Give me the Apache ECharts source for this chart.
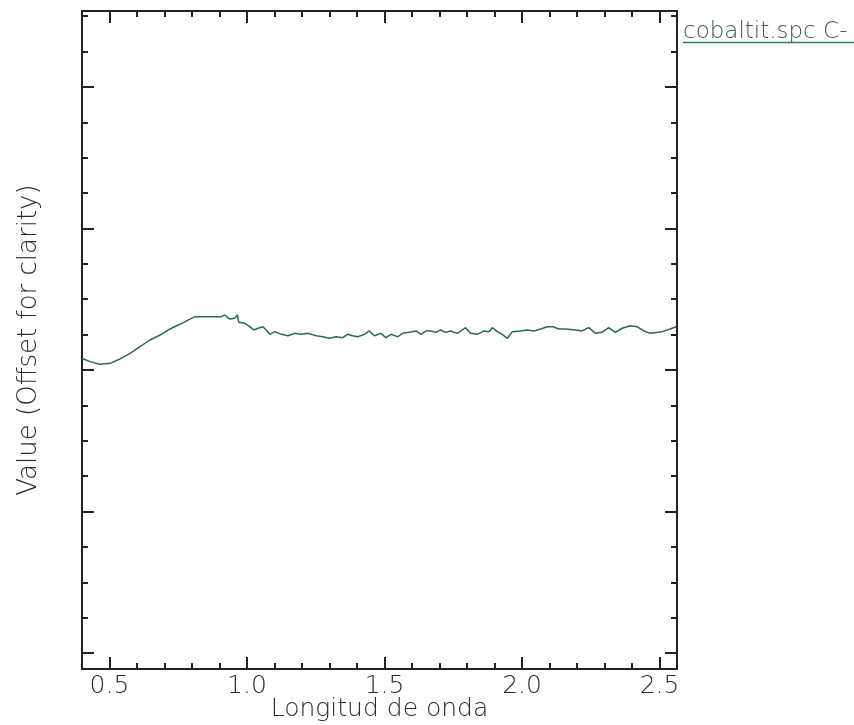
<!DOCTYPE html>
<html>
<head>
<meta charset="utf-8">
<script src="https://cdn.jsdelivr.net/npm/echarts@6/dist/echarts.min.js"></script>
<style>
  html, body { margin: 0; background: #fff; }
  #chart { width: 854px; height: 725px; }
</style>
</head>
<body>
<div id="chart"></div>
<script>
// spectrum (wavelength in um, value offset for clarity)
const wavelength = [
  0.400, 0.429, 0.465, 0.502, 0.538, 0.575, 0.611, 0.647, 0.684, 0.720,
  0.756, 0.793, 0.811, 0.822, 0.907, 0.919, 0.937, 0.955, 0.965, 0.970,
  0.992, 1.010, 1.025, 1.040, 1.058, 1.070, 1.083, 1.101, 1.125, 1.149,
  1.173, 1.197, 1.222, 1.252, 1.275, 1.299, 1.324, 1.348, 1.366, 1.384,
  1.403, 1.427, 1.445, 1.463, 1.487, 1.505, 1.524, 1.548, 1.566, 1.590,
  1.615, 1.633, 1.651, 1.669, 1.687, 1.704, 1.723, 1.741, 1.765, 1.795,
  1.813, 1.837, 1.862, 1.880, 1.892, 1.910, 1.928, 1.947, 1.965, 1.995,
  2.019, 2.044, 2.068, 2.092, 2.114, 2.133, 2.157, 2.194, 2.218, 2.243,
  2.267, 2.291, 2.315, 2.339, 2.364, 2.394, 2.418, 2.443, 2.467, 2.509,
  2.539, 2.560
];
const value = [
  0.2083, 0.2059, 0.2040, 0.2047, 0.2078, 0.2118, 0.2165, 0.2212, 0.2247, 0.2290,
  0.2323, 0.2360, 0.2377, 0.2377, 0.2377, 0.2389, 0.2360, 0.2365, 0.2389, 0.2337,
  0.2330, 0.2306, 0.2283, 0.2295, 0.2306, 0.2283, 0.2252, 0.2271, 0.2252, 0.2242,
  0.2259, 0.2252, 0.2259, 0.2242, 0.2235, 0.2224, 0.2235, 0.2228, 0.2252, 0.2242,
  0.2235, 0.2252, 0.2276, 0.2242, 0.2259, 0.2228, 0.2252, 0.2235, 0.2259, 0.2266,
  0.2276, 0.2252, 0.2276, 0.2276, 0.2266, 0.2283, 0.2266, 0.2276, 0.2259, 0.2299,
  0.2259, 0.2252, 0.2276, 0.2271, 0.2299, 0.2271, 0.2252, 0.2224, 0.2271, 0.2276,
  0.2283, 0.2276, 0.2290, 0.2306, 0.2306, 0.2290, 0.2290, 0.2283, 0.2276, 0.2299,
  0.2259, 0.2266, 0.2299, 0.2266, 0.2295, 0.2313, 0.2306, 0.2276, 0.2259, 0.2271,
  0.2290, 0.2306
];

const seriesName = "cobaltit.spc C-";
const xName = "Longitud de onda";
const yName = "Value (Offset for clarity)";

const xMajorTicks = [0.5, 1.0, 1.5, 2.0, 2.5];
const xMinorTicks = [0.6, 0.7, 0.8, 0.9, 1.1, 1.2, 1.3, 1.4, 1.6, 1.7, 1.8, 1.9, 2.1, 2.2, 2.3, 2.4];
const yMajorTicks = [0, 0.1, 0.2, 0.3, 0.4];
const yMinorTicks = [
  0.025, 0.05, 0.075, 0.125, 0.15, 0.175, 0.225, 0.25, 0.275,
  0.325, 0.35, 0.375, 0.425, 0.45
];

const X_MIN = 0.4;
const X_MAX = 2.5636;
const Y_MIN = -0.0113;
const Y_MAX = 0.4537;

const INK = "#222";
const FONT = "DejaVu Sans";

const chart = echarts.init(document.getElementById("chart"), null, { renderer: "canvas" });

function xAxisDef(position, ticks, len, withLabels) {
  return {
    type: "value",
    position,
    min: X_MIN,
    max: X_MAX,
    splitLine: { show: false },
    axisLine: { show: true, onZero: false, lineStyle: { color: INK, width: 2 } },
    axisTick: { show: true, inside: true, length: len, customValues: ticks, lineStyle: { color: INK, width: 2 } },
    axisLabel: withLabels
      ? {
          show: true,
          customValues: ticks,
          formatter: (v) => v.toFixed(1),
          color: "#2a2a2a",
          fontFamily: FONT,
          fontWeight: 200,
          fontSize: 25,
          margin: 5
        }
      : { show: false },
    name: withLabels ? xName : "",
    nameLocation: "middle",
    nameGap: 28,
    nameMoveOverlap: false,
    nameTextStyle: { color: "#2a2a2a", fontFamily: FONT, fontWeight: 200, fontSize: 25 }
  };
}

function yAxisDef(position, ticks, len, withName) {
  return {
    type: "value",
    position,
    min: Y_MIN,
    max: Y_MAX,
    splitLine: { show: false },
    axisLine: { show: true, onZero: false, lineStyle: { color: INK, width: 2 } },
    axisTick: { show: true, inside: true, length: len, customValues: ticks, lineStyle: { color: INK, width: 2 } },
    axisLabel: { show: false },
    name: withName ? yName : "",
    nameLocation: "middle",
    nameGap: 40,
    nameTextStyle: { color: "#2a2a2a", fontFamily: FONT, fontWeight: 200, fontSize: 26 }
  };
}

chart.setOption({
  animation: false,
  backgroundColor: "#fff",
  grid: { left: 82, top: 11, right: 177, bottom: 56, outerBoundsMode: "none" },
  xAxis: [
    xAxisDef("bottom", xMajorTicks, 12, true),
    xAxisDef("bottom", xMinorTicks, 6, false),
    xAxisDef("top", xMajorTicks, 12, false),
    xAxisDef("top", xMinorTicks, 6, false)
  ],
  yAxis: [
    yAxisDef("left", yMajorTicks, 12, true),
    yAxisDef("left", yMinorTicks, 6, false),
    yAxisDef("right", yMajorTicks, 12, false),
    yAxisDef("right", yMinorTicks, 6, false)
  ],
  series: [
    {
      name: seriesName,
      type: "line",
      xAxisIndex: 0,
      yAxisIndex: 0,
      data: wavelength.map((w, i) => [w, value[i]]),
      showSymbol: false,
      lineStyle: { color: "#2a6a52", width: 1.5 }
    }
  ],
  graphic: [
    {
      type: "text",
      left: 683,
      top: 21,
      style: {
        text: seriesName,
        fill: "#3c5c52",
        font: "200 23px 'DejaVu Sans'"
      }
    },
    {
      type: "line",
      shape: { x1: 683, y1: 42.5, x2: 854, y2: 42.5 },
      style: { stroke: "#2e7d5e", lineWidth: 1.5 }
    }
  ]
});
</script>
</body>
</html>
